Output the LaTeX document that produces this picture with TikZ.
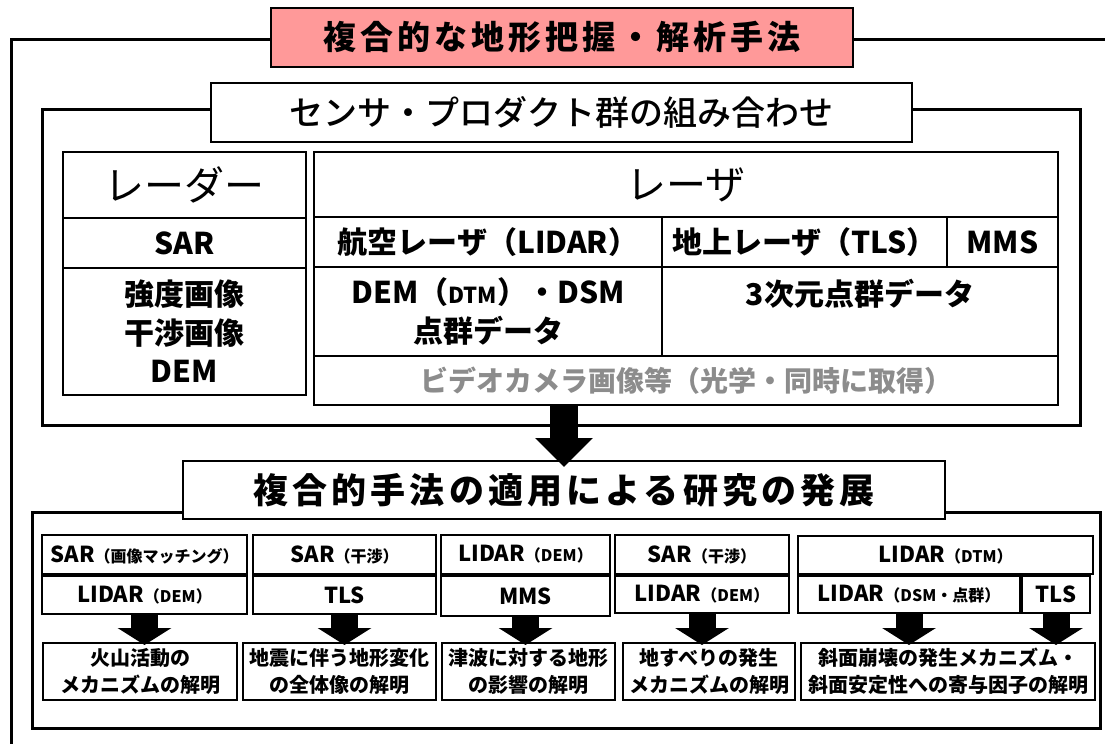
\documentclass[tikz,border=0pt]{standalone}
\usepackage{fontspec}
\usetikzlibrary{arrows.meta}
\newfontfamily\jp{Noto Sans CJK JP}
\newfontfamily\jpm{Noto Sans CJK JP Medium}
\newfontfamily\jpls{Noto Sans CJK JP}[LetterSpace=12]
\definecolor{titlepink}{RGB}{255,153,153}
\definecolor{graytext}{RGB}{140,140,140}
\newcommand\sm[1]{{\fontsize{16}{18}\selectfont #1}}
\newcommand\smt[1]{{\fontsize{22}{24}\selectfont #1}}
\newcommand\cell[7]{\node[#1, minimum width={#5-#3}, minimum height={#6-#4}] (#2) at ({(#3+#5)/2},{(#4+#6)/2}) {#7};}
\tikzset{
  frame/.style={draw, line width=3pt},
  titlebox/.style={draw, line width=1.5pt, fill=white, inner sep=0pt, outer sep=0pt},
  tbl/.style={draw, line width=1.5pt, inner sep=0pt, outer sep=0pt, align=center,
    font=\jp\bfseries\fontsize{30}{38.5}\selectfont},
  hdr/.style={tbl, font=\jp\mdseries\fontsize{40}{44}\selectfont},
  bx/.style={draw, line width=1.8pt, inner sep=0pt, outer sep=0pt, align=center,
    font=\jp\bfseries\fontsize{22}{26}\selectfont},
  res/.style={bx, font=\jp\bfseries\fontsize{20}{27}\selectfont},
  bigarrow/.style={line width=28pt, -{Triangle[width=56pt,length=29pt]}, shorten >=-6pt},
  smallarrow/.style={line width=27pt, -{Triangle[width=53pt,length=17pt]}, shorten >=-2pt}
}
\begin{document}
\begin{tikzpicture}[x=1pt,y=-1pt]
\useasboundingbox (0,0) rectangle (1105,744);
% outer frame
\draw[frame] (1105,39) -- (11,39) -- (11,744);
\cell{titlebox, fill=titlepink, font=\jpls\bfseries\fontsize{33}{36}\selectfont}{t1}{271}{8}{853}{67}{複合的な地形把握・解析手法}
% second frame
\draw[frame] (42,109) rectangle (1080,425);
\cell{titlebox, font=\jpm\fontsize{34}{36}\selectfont}{t2}{211}{83}{912}{142}{センサ・プロダクト群の組み合わせ}
% radar table
\cell{hdr}{rh}{63}{152}{306}{218}{レーダー}
\cell{tbl}{rs}{63}{218}{306}{268}{SAR}
\cell{tbl}{rb}{63}{268}{306}{395}{強度画像\\干渉画像\\DEM}
% laser table
\cell{hdr}{lh}{314}{152}{1058}{217}{レーザ}
\cell{tbl}{l1}{314}{217}{662}{267}{航空レーザ（LIDAR）}
\cell{tbl}{l2}{662}{217}{947}{267}{地上レーザ（TLS）}
\cell{tbl}{l3}{947}{217}{1058}{267}{MMS}
\cell{tbl}{l4}{314}{267}{662}{356}{DEM（\smt{DTM}）・DSM\\点群データ}
\cell{tbl}{l5}{662}{267}{1058}{356}{3次元点群データ\\\mbox{}}
\cell{tbl, text=graytext, font=\jp\bfseries\fontsize{28}{30}\selectfont}{l6}{314}{356}{1058}{405}{ビデオカメラ画像等（光学・同時に取得）}
% third frame
\draw[frame] (32,512) rectangle (1100,728);
\cell{titlebox, font=\jpls\bfseries\fontsize{35}{38}\selectfont}{t3}{183}{461}{945}{519}{複合的手法の適用による研究の発展}
\draw[bigarrow] (t3.north |- l6.south) -- (t3.north);
% group 1
\cell{bx}{g1a}{42}{535}{247}{574}{SAR\sm{（画像マッチング）}}
\cell{bx}{g1b}{42}{576}{247}{614}{LIDAR\sm{（DEM）}}
\cell{res}{g1r}{43}{643}{237}{700}{火山活動の\\メカニズムの解明}
% group 2
\cell{bx}{g2a}{253}{535}{436}{574}{SAR\sm{（干渉）}}
\cell{bx}{g2b}{253}{576}{436}{614}{TLS}
\cell{res}{g2r}{243}{643}{436}{700}{地震に伴う地形変化\\の全体像の解明}
% group 3
\cell{bx}{g3a}{441}{535}{610}{574}{LIDAR\sm{（DEM）}}
\cell{bx}{g3b}{441}{576}{610}{616}{MMS}
\cell{res}{g3r}{442}{643}{615}{700}{津波に対する地形\\の影響の解明}
% group 4
\cell{bx}{g4a}{615}{535}{789}{574}{SAR\sm{（干渉）}}
\cell{bx}{g4b}{615}{576}{789}{613}{LIDAR\sm{（DEM）}}
\cell{res}{g4r}{623}{643}{795}{700}{地すべりの発生\\メカニズムの解明}
% group 5
\cell{bx}{g5a}{798}{536}{1093}{574}{LIDAR\sm{（DTM）}}
\cell{bx}{g5b}{798}{576}{1020}{613}{LIDAR\sm{（DSM・点群）}}
\cell{bx}{g5c}{1022}{576}{1090}{613}{TLS}
\cell{res}{g5r}{801}{643}{1095}{700}{斜面崩壊の発生メカニズム・\\斜面安定性への寄与因子の解明}
% arrows
\draw[smallarrow] (g1b.south) -- (g1b.south |- g1r.north);
\draw[smallarrow] (g2b.south) -- (g2b.south |- g2r.north);
\draw[smallarrow] (g3b.south) -- (g3b.south |- g3r.north);
\draw[smallarrow] (g4b.south) -- (g4b.south |- g4r.north);
\draw[smallarrow] (g5b.south) -- (g5b.south |- g5r.north);
\draw[smallarrow] (g5c.south) -- (g5c.south |- g5r.north);
\end{tikzpicture}
\end{document}
